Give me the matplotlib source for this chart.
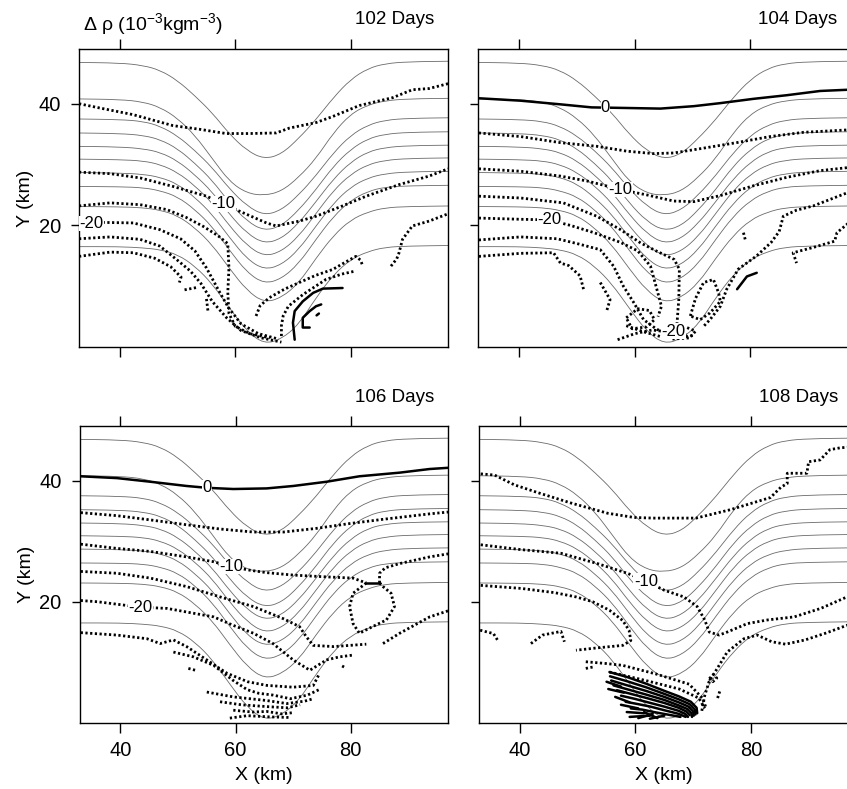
import matplotlib
matplotlib.use("Agg")
import matplotlib.pyplot as plt
from matplotlib.path import Path
from matplotlib.patches import PathPatch

plt.rcParams['font.family'] = ['Liberation Sans', 'DejaVu Sans']
plt.rcParams['mathtext.default'] = 'regular'

# bottom topography (thin grey contours), same in all four panels
topo_x = [32, 40, 44, 47, 50, 53, 56, 59, 62, 65, 68, 71, 74, 77, 80, 83, 86, 90, 98]
topo_y = [
    [46.8, 46.7, 46.3, 45.5, 43.8, 41.3, 38.5, 35.0, 32.3, 30.9, 31.7, 34.3, 37.4, 41.0, 44.0, 45.8, 46.6, 46.9, 47.0],
    [40.8, 40.7, 40.3, 39.4, 37.6, 34.8, 31.0, 27.2, 25.3, 24.9, 25.6, 27.9, 31.0, 35.2, 38.3, 39.8, 40.5, 40.8, 40.9],
    [37.5, 37.4, 37.1, 36.3, 34.7, 32.3, 29.5, 26.0, 23.2, 21.65, 22.5, 25.0, 28.2, 31.9, 34.8, 36.5, 37.3, 37.6, 37.7],
    [35.2, 35.1, 34.8, 34.1, 32.6, 30.2, 27.4, 23.7, 20.7, 19.1, 19.9, 22.5, 25.9, 29.7, 32.5, 34.25, 35.0, 35.3, 35.4],
    [33.0, 32.9, 32.6, 32.0, 30.6, 28.3, 25.5, 21.8, 18.7, 17.0, 17.8, 20.35, 23.9, 27.6, 30.4, 32.1, 32.8, 33.1, 33.2],
    [30.9, 30.8, 30.6, 30.0, 28.7, 26.5, 23.7, 19.9, 16.7, 14.9, 15.7, 18.2, 21.95, 25.7, 28.4, 30.0, 30.7, 31.0, 31.1],
    [28.7, 28.6, 28.4, 27.9, 26.8, 24.6, 21.8, 18.0, 14.5, 12.7, 13.5, 16.0, 19.9, 23.6, 26.3, 27.8, 28.5, 28.8, 28.9],
    [26.4, 26.35, 26.2, 25.7, 24.7, 22.6, 19.8, 15.9, 12.3, 10.4, 11.2, 13.7, 17.7, 21.45, 24.1, 25.6, 26.3, 26.5, 26.6],
    [23.1, 23.05, 22.9, 22.5, 21.6, 19.6, 16.8, 12.9, 9.3, 7.3, 8.1, 10.5, 14.6, 18.3, 20.9, 22.2, 22.9, 23.1, 23.2],
    [16.5, 16.5, 16.3, 16.0, 15.2, 13.3, 10.4, 6.4, 2.6, 0.5, 1.3, 3.7, 8.1, 11.85, 14.4, 15.7, 16.4, 16.6, 16.7],
]

# ---- 102 days ----
d102_dotted = [
    [(32.9, 40.0), (36.5, 39.3), (42.3, 38.2), (49.2, 36.4), (53.8, 35.8), (58.4, 35.1), (62.5, 35.1), (67.1, 35.2),
     (69.4, 36.0), (74.0, 36.9), (76.9, 37.9), (81.5, 39.7), (87.3, 41.0), (90.7, 42.3), (93.6, 42.5), (96.9, 43.3)],
    [(32.9, 28.75), (38.3, 28.5), (43.5, 27.8), (49.2, 26.4), (55.0, 24.8), (57.9, 23.55), (60.8, 22.3), (65.4, 20.4),
     (67.1, 19.9), (71.1, 20.7), (74.0, 21.5), (78.6, 23.2), (82.7, 24.8), (88.4, 26.7), (93.6, 28.1), (96.9, 29.3)],
    [(32.9, 23.2), (38.3, 23.7), (43.5, 23.4), (48.1, 22.6), (51.5, 21.3), (54.5, 19.8), (57.0, 18.3), (58.7, 17.0),
     (58.9, 13.0), (58.7, 9.0), (58.9, 5.5), (60.0, 3.4), (62.5, 2.2), (66.0, 1.5)],
    [(32.9, 20.3), (36.0, 20.5), (42.3, 20.4), (46.9, 19.3), (50.5, 17.8), (53.0, 15.8), (55.0, 13.0), (57.0, 9.5),
     (58.8, 6.5), (61.0, 3.8), (64.0, 2.2), (67.5, 1.3)],
    [(32.9, 17.8), (38.3, 18.1), (43.5, 17.7), (46.9, 16.6), (49.8, 14.4), (52.2, 12.5), (54.0, 10.5), (56.0, 7.5),
     (58.5, 4.8), (61.0, 2.7), (64.5, 1.5), (68.0, 0.8)],
    [(32.9, 14.9), (38.3, 15.6), (42.3, 15.5), (46.0, 14.6), (48.8, 13.2), (50.6, 11.5), (50.3, 10.6)],
    [(51.2, 9.4), (53.4, 9.8)],
    [(55.0, 7.9), (55.3, 5.6)],
    [(63.6, 5.1), (64.3, 6.8), (65.9, 8.1), (68.5, 9.5), (71.1, 10.6), (74.0, 11.8), (76.9, 12.75), (79.0, 13.9),
     (80.9, 14.9), (81.7, 14.3), (82.0, 13.6)],
    [(68.0, 1.8), (68.0, 3.5), (68.3, 5.1), (69.2, 6.7), (71.7, 8.6), (75.7, 11.1), (78.5, 12.0), (80.9, 12.5)],
    [(87.0, 13.3), (88.0, 14.5), (88.4, 15.5), (89.0, 17.7), (90.7, 19.9), (93.6, 20.7), (96.9, 21.9)],
]
d102_solid = [
    [(70.3, 1.2), (70.0, 4.0), (70.3, 5.9), (71.7, 7.5), (73.5, 8.9), (75.2, 9.6), (78.6, 9.7)],
    [(72.9, 3.2), (71.7, 3.2), (71.7, 4.8), (72.9, 5.9), (74.0, 6.7), (74.9, 7.0)],
    [(74.1, 5.2), (74.5, 5.5)],
]
d102_labels = [('-10', 57.9, 23.55), ('-20', 35.0, 20.3)]

# ---- 104 days ----
d104_dotted = [
    [(32.95, 35.2), (40.2, 34.6), (47.1, 33.6), (53.4, 33.0), (58.6, 32.2), (63.2, 31.8), (66.7, 31.9), (71.9, 32.7),
     (77.6, 33.6), (83.4, 34.6), (89.2, 35.3), (96.9, 35.7)],
    [(32.95, 29.3), (40.2, 28.9), (47.1, 28.1), (51.7, 27.3), (55.0, 26.5), (57.5, 25.9), (60.0, 25.4), (62.1, 25.0),
     (66.7, 24.0), (70.2, 23.9), (74.8, 24.9), (80.5, 26.5), (86.3, 27.9), (92.1, 29.0), (96.9, 29.5)],
    [(32.95, 24.8), (40.2, 24.5), (47.6, 23.7), (53.4, 21.5), (57.5, 19.3), (61.0, 17.1), (63.9, 15.7), (66.8, 14.4),
     (67.7, 12.8), (67.6, 7.8), (67.3, 4.0), (67.0, 2.5)],
    [(32.95, 21.2), (40.2, 21.0), (45.1, 20.9), (48.8, 20.0), (52.9, 18.8), (57.5, 17.2), (60.5, 15.8), (62.7, 13.3),
     (63.8, 9.5), (64.6, 6.7), (64.0, 5.0)],
    [(32.95, 17.6), (40.2, 18.1), (46.5, 17.8), (50.0, 17.0), (54.0, 16.0), (56.3, 13.3), (58.0, 10.0), (59.8, 7.3),
     (61.5, 4.5), (63.8, 2.9), (66.1, 2.1), (69.0, 2.0)],
    [(32.95, 14.9), (40.2, 15.4), (45.9, 15.5), (47.1, 13.8), (48.5, 13.4), (50.5, 11.7), (51.1, 9.5)],
    [(54.0, 10.6), (55.7, 7.8), (55.1, 5.9)],
    [(58.5, 4.8), (60.5, 6.3), (62.5, 6.0), (63.4, 4.5), (62.0, 3.3), (59.5, 3.0), (58.5, 4.8)],
    [(57.0, 1.2), (60.0, 2.2), (63.0, 2.8), (65.5, 2.5)],
    [(58.5, 3.5), (61.5, 2.5), (64.5, 1.7), (67.5, 1.5), (70.0, 1.9)],
    [(66.5, 1.3), (69.5, 1.5), (70.5, 2.6), (69.0, 3.2)],
    [(69.6, 5.1), (70.5, 8.0), (71.9, 10.6), (73.6, 11.1), (74.5, 8.9), (74.8, 7.5), (73.0, 5.6), (71.3, 4.5), (69.6, 5.1)],
    [(72.0, 3.5), (73.0, 4.5), (74.8, 6.7), (75.9, 9.5), (77.9, 12.8), (81.1, 15.0), (83.6, 17.2), (85.0, 19.0),
     (85.7, 21.5), (88.0, 22.5), (90.9, 23.2), (96.9, 25.4)],
    [(96.9, 20.3), (95.0, 18.8), (94.6, 17.4), (91.0, 16.4), (87.4, 15.5), (88.0, 13.8)],
    [(78.8, 18.8), (79.1, 17.7)],
]
d104_solid = [
    [(32.95, 40.9), (40.2, 40.5), (47.1, 39.9), (52.5, 39.4), (58.6, 39.3), (64.4, 39.2), (70.2, 39.6), (74.8, 40.1),
     (80.5, 40.8), (86.3, 41.4), (92.1, 42.1), (96.9, 42.3)],
    [(77.7, 9.5), (79.4, 11.6), (81.1, 12.2)],
]
d104_labels = [('0', 54.9, 39.35), ('-10', 57.5, 25.9), ('-20', 45.1, 20.9), ('-20', 66.7, 2.6)]

# ---- 106 days ----
d106_dotted = [
    [(33.1, 34.7), (39.4, 34.2), (45.2, 33.5), (51.5, 32.7), (57.3, 32.0), (63.1, 31.5), (68.3, 31.5), (74.0, 32.1),
     (79.8, 32.9), (85.6, 33.6), (93.7, 34.5), (96.9, 34.8)],
    [(33.1, 29.5), (39.4, 28.8), (45.2, 28.3), (51.5, 27.4), (56.2, 26.6), (59.2, 25.8), (62.5, 25.2), (65.4, 24.8),
     (70.0, 24.4), (75.8, 24.1), (80.4, 23.9), (82.7, 23.1)],
    [(85.0, 23.1), (85.0, 24.7), (86.0, 25.6), (88.5, 26.3), (93.7, 27.4), (96.9, 27.9)],
    [(82.7, 23.1), (80.4, 21.4), (79.8, 19.2), (80.4, 16.4), (81.5, 14.8), (83.8, 15.9), (86.2, 17.0), (87.6, 19.2),
     (87.0, 21.4), (85.6, 22.5), (85.0, 23.1)],
    [(33.1, 25.0), (39.4, 24.7), (45.2, 23.9), (51.5, 22.5), (57.3, 20.8), (63.1, 19.2), (68.3, 17.2), (71.1, 15.9),
     (72.3, 14.2), (73.5, 12.8), (77.0, 12.6), (82.7, 13.0)],
    [(85.6, 13.1), (88.5, 14.8), (93.7, 17.5), (96.9, 18.5)],
    [(33.1, 20.2), (36.0, 20.0), (43.5, 19.1), (48.1, 18.9), (52.7, 18.1), (56.2, 17.5), (59.6, 16.1), (63.1, 14.8),
     (66.5, 13.1), (70.0, 10.4), (72.9, 8.7), (75.8, 10.4), (78.0, 10.9), (80.4, 11.2)],
    [(78.5, 9.4), (78.9, 9.2)],
    [(33.1, 14.9), (39.4, 14.5), (44.6, 13.9), (46.9, 13.1), (49.2, 13.7), (51.5, 12.6), (55.0, 10.4), (58.5, 8.2),
     (62.1, 6.8), (65.4, 6.2), (70.0, 5.9), (73.5, 6.2), (74.6, 8.2)],
    [(49.2, 11.7), (52.7, 10.9), (56.2, 9.5), (59.6, 7.0), (62.0, 5.5), (64.0, 4.9), (66.5, 4.6), (69.5, 4.0),
     (72.5, 4.6), (74.5, 5.5)],
    [(51.8, 9.0), (53.0, 8.7)],
    [(55.0, 5.1), (59.6, 4.3), (65.4, 3.7), (68.9, 3.2), (72.0, 3.6), (73.5, 4.0)],
    [(57.3, 3.5), (61.0, 3.0), (65.4, 2.7), (69.0, 2.5), (71.2, 3.0)],
    [(59.6, 2.1), (63.0, 1.8), (65.4, 1.9), (68.0, 1.5), (70.0, 1.7)],
    [(59.0, 0.8), (62.0, 1.2), (66.0, 1.0), (69.5, 0.9)],
]
d106_solid = [
    [(33.1, 40.7), (39.4, 40.4), (45.2, 39.8), (51.5, 39.1), (55.0, 38.8), (59.6, 38.6), (65.4, 38.7), (70.0, 39.1),
     (75.8, 39.8), (81.5, 40.7), (88.5, 41.3), (93.7, 41.9), (96.9, 42.1)],
    [(82.7, 23.1), (85.0, 23.1)],
]
d106_labels = [('0', 55.0, 38.8), ('-10', 59.2, 25.8), ('-20', 43.5, 19.1)]

# ---- 108 days ----
d108_dotted = [
    [(33.2, 41.1), (35.6, 40.9), (39.0, 39.3), (43.1, 38.0), (48.8, 36.3), (55.2, 34.6), (59.8, 33.9), (63.2, 33.8),
     (70.5, 33.8), (76.5, 35.2), (83.4, 37.2), (85.2, 38.9), (86.3, 39.5), (86.3, 41.2), (89.7, 41.2), (90.0, 43.1),
     (92.0, 43.4), (93.7, 45.1), (95.5, 45.4), (96.9, 45.5)],
    [(33.2, 29.4), (40.2, 28.6), (47.1, 28.0), (53.4, 26.3), (58.6, 24.7), (61.8, 23.4), (65.0, 21.9), (68.4, 20.8),
     (70.7, 19.2), (72.0, 17.0), (72.8, 15.0), (74.5, 14.5), (75.9, 15.0), (79.4, 16.4), (82.9, 17.0), (87.5, 17.5),
     (92.1, 18.9), (96.9, 20.9)],
    [(33.2, 22.7), (40.2, 22.2), (46.0, 21.5), (49.7, 20.8), (52.6, 20.0), (55.5, 18.6), (57.8, 16.9), (58.9, 15.3),
     (59.2, 13.6), (57.8, 12.8), (53.5, 12.4), (49.7, 12.0)],
    [(33.1, 15.3), (35.4, 14.75), (36.3, 13.4)],
    [(41.9, 13.1), (43.9, 14.5), (47.1, 15.1), (47.7, 13.4)],
    [(51.4, 9.0), (53.0, 9.3)],
    [(51.4, 10.1), (55.0, 9.8), (57.8, 9.5), (63.5, 8.1), (69.3, 6.4), (71.6, 4.1), (72.2, 2.6)],
    [(55.5, 8.4), (61.8, 7.0), (67.6, 5.6), (71.0, 4.1), (72.0, 2.4)],
    [(71.5, 2.0), (72.0, 4.5), (72.75, 6.8), (74.5, 9.5), (75.9, 11.7), (78.8, 13.9), (81.1, 14.5), (83.6, 13.4),
     (86.0, 13.0), (89.4, 13.7), (92.9, 14.8), (96.9, 16.2)],
    [(72.8, 7.3), (73.5, 8.0), (74.1, 7.4), (73.4, 6.8), (72.8, 7.3)],
    [(74.6, 5.2), (74.2, 4.0)],
]
d108_solid = [
    [(55.5, 8.4), (58.5, 7.6), (61.8, 6.5), (65.0, 5.3), (67.5, 4.4), (69.6, 3.5), (70.6, 2.5), (70.7, 1.6)],
    [(55.6, 7.7), (58.5, 6.9), (61.8, 5.9), (65.0, 4.8), (67.5, 3.9), (69.4, 3.1), (70.3, 2.2), (70.4, 1.4)],
    [(55.8, 7.0), (58.6, 6.2), (61.8, 5.3), (65.0, 4.3), (67.5, 3.4), (69.2, 2.7), (70.0, 1.9), (70.1, 1.2)],
    [(56.2, 6.2), (58.8, 5.5), (61.8, 4.7), (65.0, 3.8), (67.5, 2.9), (69.0, 2.3), (69.7, 1.6), (69.8, 1.0)],
    [(56.8, 5.4), (59.2, 4.8), (62.0, 4.1), (65.0, 3.3), (67.5, 2.5), (68.8, 1.9), (69.4, 1.3)],
    [(57.5, 4.5), (59.8, 4.0), (62.2, 3.4), (65.0, 2.7), (67.5, 2.0), (68.6, 1.5), (69.1, 1.0)],
    [(58.3, 3.5), (60.5, 3.1), (62.6, 2.7), (65.0, 2.1), (67.5, 1.5), (68.7, 1.0)],
    [(59.2, 2.4), (61.2, 2.2), (63.2, 1.8), (65.5, 1.4), (67.8, 1.0)],
    [(55.0, 6.8), (57.5, 6.0)], [(55.3, 5.6), (58.0, 5.0)], [(56.5, 4.3), (59.0, 3.4)],
    [(57.5, 3.0), (60.5, 2.4)], [(58.5, 1.8), (61.5, 1.6)], [(59.0, 1.0), (62.5, 1.2)],
    [(60.5, 0.8), (63.0, 1.5)], [(61.5, 1.8), (63.8, 0.8)], [(62.5, 0.7), (65.0, 1.2)],
]
d108_labels = [('-10', 61.8, 23.4)]

titles = ['102 Days', '104 Days', '106 Days', '108 Days']

# axes rectangles in figure fractions (left, bottom, width, height)
rects = [
    [0.0933, 0.5602, 0.4357, 0.3777],
    [0.5649, 0.5602, 0.4362, 0.3777],
    [0.0939, 0.0837, 0.4351, 0.3764],
    [0.5655, 0.0837, 0.4362, 0.3764],
]

panels = [
    (d102_dotted, d102_solid, d102_labels),
    (d104_dotted, d104_solid, d104_labels),
    (d106_dotted, d106_solid, d106_labels),
    (d108_dotted, d108_solid, d108_labels),
]


def smooth_path(xs, ys):
    # quadratic curve through midpoints so the topography lines look smooth
    pts = list(zip(xs, ys))
    verts = [pts[0]]
    codes = [Path.MOVETO]
    for i in range(1, len(pts) - 1):
        mid = ((pts[i][0] + pts[i + 1][0]) / 2, (pts[i][1] + pts[i + 1][1]) / 2)
        if i == 1:
            m0 = ((pts[0][0] + pts[1][0]) / 2, (pts[0][1] + pts[1][1]) / 2)
            verts.append(m0)
            codes.append(Path.LINETO)
        verts += [pts[i], mid]
        codes += [Path.CURVE3, Path.CURVE3]
    verts.append(pts[-1])
    codes.append(Path.LINETO)
    return Path(verts, codes)


fig = plt.figure(figsize=(8.47, 7.89), dpi=100)

for k in range(4):
    ax = fig.add_axes(rects[k])
    dotted, solid, labels = panels[k]
    left_col = k in (0, 2)
    bottom_row = k in (2, 3)

    for ty in topo_y:
        ax.add_patch(PathPatch(smooth_path(topo_x, ty), fc='none', ec='#6a6a6a', lw=0.6, zorder=1))

    for line in dotted:
        xs = [p[0] for p in line]
        ys = [p[1] for p in line]
        ax.plot(xs, ys, color='black', lw=2.0, linestyle=(0, (0.8, 0.9)),
                dash_capstyle='butt', zorder=3)
    for line in solid:
        xs = [p[0] for p in line]
        ys = [p[1] for p in line]
        ax.plot(xs, ys, color='black', lw=1.8, solid_capstyle='round', zorder=3)
    for s, x, y in labels:
        ax.text(x, y, s, ha='center', va='center', fontsize=12, zorder=5,
                bbox=dict(fc='white', ec='none', pad=0.3))

    ax.set_xlim(32.9, 96.9)
    ax.set_ylim(0, 49)
    ax.set_xticks([40, 60, 80])
    ax.set_yticks([20, 40])
    ax.tick_params(axis='x', direction='out', length=7, width=1.0, top=True, bottom=True,
                   labelbottom=bottom_row, labelsize=14.5, pad=6)
    ax.tick_params(axis='y', direction='out', length=6, width=1.0, left=True, right=False,
                   labelleft=left_col, labelsize=14.5, pad=7)
    for sp in ax.spines.values():
        sp.set_linewidth(1.0)
    if not left_col:
        ax.spines['right'].set_visible(False)
    if left_col:
        ax.set_ylabel('Y (km)', fontsize=14, labelpad=3)
    if bottom_row:
        ax.set_xlabel('X (km)', fontsize=14, labelpad=5)

    ty = 1.083 if k < 2 else 1.08
    tx = 0.962 if left_col else 0.972
    ax.text(tx, ty, titles[k], transform=ax.transAxes, ha='right', va='baseline', fontsize=13.5)

fig.text(83 / 847, 1 - 30.5 / 789, r'Δ ρ (10$^{-3}$kgm$^{-3}$)', ha='left', va='baseline', fontsize=14)

fig.savefig('out.png', dpi=100)
